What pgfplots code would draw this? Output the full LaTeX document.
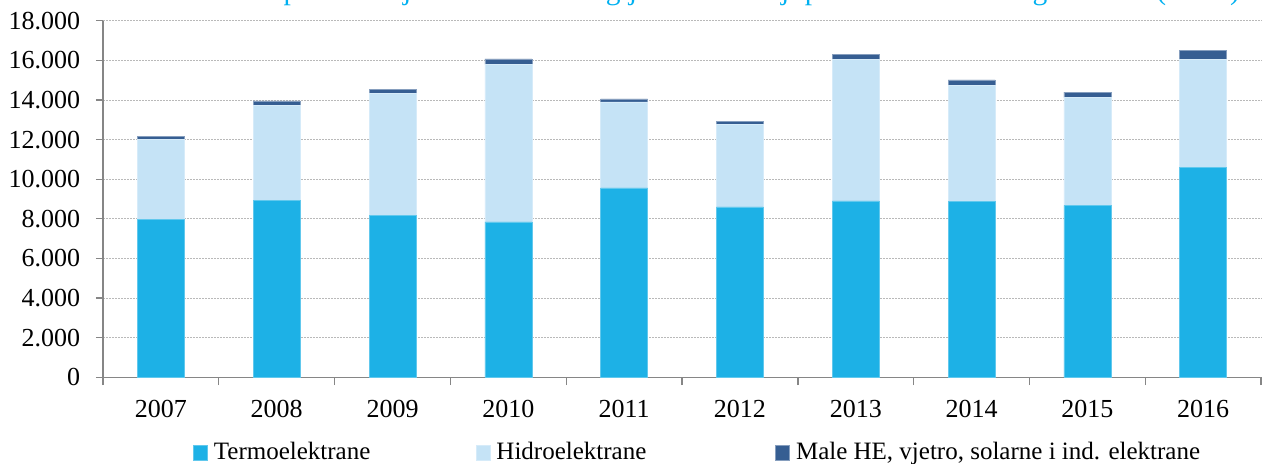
\documentclass[border=0pt]{standalone}
\usepackage{fontspec}
\setmainfont{Liberation Serif}
\usepackage{pgfplots}
\pgfplotsset{compat=1.18}
\definecolor{termo}{RGB}{29,177,230}
\definecolor{hidro}{RGB}{197,227,246}
\definecolor{male}{RGB}{54,94,146}
\definecolor{axgray}{RGB}{134,134,134}
\definecolor{titlecyan}{RGB}{0,176,240}
\pgfplotsset{sqlegend/.style={legend image code/.code={\path[##1] (0bp,-7bp) rectangle (14bp,7.3bp);}}}
\begin{document}
\fontsize{26bp}{31bp}\selectfont
\begin{tikzpicture}
\useasboundingbox (0,0) rectangle (1262bp,464bp);
\clip (0,0) rectangle (1262bp,464bp);
\node[anchor=base east, text=titlecyan, inner sep=0pt, font=\fontsize{29.5bp}{34bp}\selectfont] at (1240bp,464.5bp) {Struktura proizvodnje električne energije u Federaciji po vrsti elektrana i godinama (GWh)};
\begin{axis}[
  at={(103bp,86.7bp)}, anchor=south west,
  width=1158bp, height=356.6bp, scale only axis,
  ybar stacked, bar width=47bp,
  xmin=-0.5, xmax=9.5, ymin=0, ymax=18000,
  xtick={0,...,9},
  xticklabels={2007,2008,2009,2010,2011,2012,2013,2014,2015,2016},
  xticklabel style={yshift=-7bp},
  minor xtick={-0.5,0.5,...,9.5},
  major x tick style={draw=none},
  ytick={0,2000,...,18000},
  yticklabels={0,2.000,4.000,6.000,8.000,10.000,12.000,14.000,16.000,18.000},
  yticklabel style={xshift=-7bp},
  scaled y ticks=false,
  tick align=outside,
  major tick length=7bp, minor tick length=7.7bp,
  tick style={axgray, line width=1.3bp},
  axis x line*=bottom, axis y line*=left,
  axis line style={axgray, line width=1.5bp},
  ymajorgrids,
  major grid style={gray!55, line width=0.8bp, dash pattern=on 2bp off 1bp},
  legend columns=3,
  legend style={draw=none, fill=none, at={(0.0752,-0.2123)}, anchor=west,
    nodes={inner sep=0pt}, font=\fontsize{25bp}{30bp}\selectfont},
]
\addplot[fill=termo, draw=termo!70!white, line width=0.6bp, sqlegend] coordinates {
(0,7950) (1,8910) (2,8190) (3,7840) (4,9560) (5,8600) (6,8900) (7,8880) (8,8680) (9,10580)};
\addlegendentry{\hspace{6bp}\makebox[262bp][l]{Termoelektrane}}
\addplot[fill=hidro, draw=hidro!70!white, line width=0.6bp, sqlegend] coordinates {
(0,4060) (1,4820) (2,6160) (3,7960) (4,4340) (5,4150) (6,7130) (7,5840) (8,5440) (9,5470)};
\addlegendentry{\hspace{6bp}\makebox[279bp][l]{Hidroelektrane}}
\addplot[fill=male, draw=male!60!white, line width=0.6bp, sqlegend] coordinates {
(0,160) (1,220) (2,200) (3,270) (4,150) (5,170) (6,270) (7,290) (8,280) (9,450)};
\addlegendentry{\hspace{6bp}Male HE, vjetro, solarne i ind. elektrane}
\end{axis}
\end{tikzpicture}
\end{document}
